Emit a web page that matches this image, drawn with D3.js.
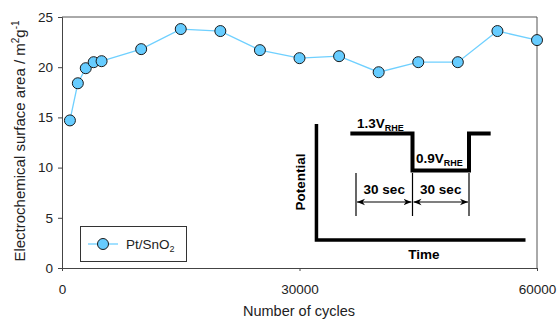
<!DOCTYPE html>
<html lang="en">
<head>
<meta charset="UTF-8" />
<title>ECSA vs cycles</title>
<script src="https://cdn.jsdelivr.net/npm/d3@7"></script>
<style>
  body { margin: 0; background: #fff; }
  svg { font-family: Arial, "Liberation Sans", sans-serif; }
  .tick text { font-size: 13.5px; fill: #222; }
</style>
</head>
<body>
<svg id="chart" width="558" height="320"></svg>
<script>
// data
var cycles = [1000, 2000, 3000, 4000, 5000, 10000, 15000, 20000, 25000, 30000,
              35000, 40000, 45000, 50000, 55000, 60000];
var ecsa = [14.7, 18.4, 19.9, 20.5, 20.6, 21.8, 23.8, 23.6, 21.7, 20.9,
            21.1, 19.5, 20.5, 20.5, 23.6, 22.7];
var xTicks = [0, 30000, 60000];
var yTicks = [0, 5, 10, 15, 20, 25];

// inset schematic: potential step (time in s, potential in V)
var waveT = [-3, 30, 30, 60, 60, 71.5];
var waveV = [1.3, 1.3, 0.9, 0.9, 1.3, 1.3];
var markT = [0, 30, 60];

var svg = d3.select("#chart");
var m = { left: 62, top: 17, right: 537, bottom: 268 };

var x = d3.scaleLinear().domain([0, 60000]).range([m.left, m.right]);
var y = d3.scaleLinear().domain([0, 25]).range([m.bottom, m.top]);

// frame top/right
svg.append("path")
  .attr("d", "M" + m.left + "," + m.top + "H" + m.right + "V" + m.bottom)
  .attr("fill", "none").attr("stroke", "#555").attr("stroke-width", 1);

var yAxis = svg.append("g")
  .attr("transform", "translate(" + m.left + ",0)")
  .call(d3.axisLeft(y).tickValues(yTicks).tickSize(4).tickPadding(5));
var xAxis = svg.append("g")
  .attr("transform", "translate(0," + m.bottom + ")")
  .call(d3.axisBottom(x).tickValues(xTicks).tickFormat(d3.format("d")).tickSize(3).tickPadding(11));
[xAxis, yAxis].forEach(function (a) {
  a.select(".domain").attr("stroke", "#444");
  a.selectAll(".tick line").attr("stroke", "#444");
});
xAxis.selectAll(".tick text").attr("dy", "0.9em");

// axis titles
svg.append("text")
  .attr("x", 299).attr("y", 316)
  .attr("text-anchor", "middle").attr("font-size", 14.5).attr("fill", "#222")
  .text("Number of cycles");

var yt = svg.append("text")
  .attr("transform", "translate(25,141) rotate(-90)")
  .attr("text-anchor", "middle").attr("font-size", 15).attr("fill", "#222");
yt.append("tspan").text("Electrochemical surface area / m");
yt.append("tspan").attr("font-size", 10).attr("dy", -6).text("2");
yt.append("tspan").attr("dy", 6).text("g");
yt.append("tspan").attr("font-size", 10).attr("dy", -6).text("-1");

// series
var pts = cycles.map(function (c, i) { return [c, ecsa[i]]; });
svg.append("path")
  .datum(pts)
  .attr("d", d3.line().x(function (d) { return x(d[0]); }).y(function (d) { return y(d[1]); }))
  .attr("fill", "none").attr("stroke", "#6fd0ff").attr("stroke-width", 1.3);
svg.selectAll("circle.pt")
  .data(pts).enter().append("circle")
  .attr("class", "pt")
  .attr("cx", function (d) { return x(d[0]); })
  .attr("cy", function (d) { return y(d[1]); })
  .attr("r", 5.5)
  .attr("fill", "#66ccff").attr("stroke", "#1a1a1a").attr("stroke-width", 1);

// legend
var lg = svg.append("g");
lg.append("rect").attr("x", 80.5).attr("y", 226.5).attr("width", 106).attr("height", 35)
  .attr("fill", "#fff").attr("stroke", "#333").attr("stroke-width", 1);
lg.append("line").attr("x1", 88).attr("x2", 118).attr("y1", 244).attr("y2", 244)
  .attr("stroke", "#6fd0ff").attr("stroke-width", 1.3);
lg.append("circle").attr("cx", 103).attr("cy", 244).attr("r", 5.5)
  .attr("fill", "#66ccff").attr("stroke", "#1a1a1a");
var lt = lg.append("text").attr("x", 126).attr("y", 249).attr("font-size", 13.5).attr("fill", "#222");
lt.append("tspan").text("Pt/SnO");
lt.append("tspan").attr("font-size", 9).attr("dy", 3).text("2");

// inset schematic
var ix = d3.scaleLinear().domain([0, 60]).range([356, 469]);
var iy = d3.scaleLinear().domain([0.9, 1.3]).range([170.5, 133.5]);
var ins = svg.append("g");
ins.append("path")
  .attr("d", "M" + ix(-21) + "," + 124 + "V" + 240 + "H" + ix(90))
  .attr("fill", "none").attr("stroke", "#000").attr("stroke-width", 3.5);
ins.append("path")
  .datum(waveT.map(function (t, i) { return [t, waveV[i]]; }))
  .attr("d", d3.line().x(function (d) { return ix(d[0]); }).y(function (d) { return iy(d[1]); }))
  .attr("fill", "none").attr("stroke", "#000").attr("stroke-width", 4)
  .attr("stroke-linejoin", "miter");

ins.selectAll("line.dim").data(markT).enter().append("line")
  .attr("x1", function (d) { return ix(d); }).attr("x2", function (d) { return ix(d); })
  .attr("y1", 173).attr("y2", 216)
  .attr("stroke", "#000").attr("stroke-width", 1.2);

var defs = svg.append("defs");
defs.append("marker").attr("id", "arr").attr("viewBox", "0 0 10 10")
  .attr("refX", 10).attr("refY", 5).attr("markerWidth", 8).attr("markerHeight", 8)
  .attr("markerUnits", "userSpaceOnUse").attr("orient", "auto-start-reverse")
  .append("path").attr("d", "M0,1 L10,5 L0,9 L3,5 Z").attr("fill", "#000");
for (var k = 0; k < markT.length - 1; k++) {
  ins.append("line")
    .attr("x1", ix(markT[k]) + 1).attr("x2", ix(markT[k + 1]) - 1)
    .attr("y1", 202).attr("y2", 202)
    .attr("stroke", "#000").attr("stroke-width", 1.2)
    .attr("marker-start", "url(#arr)").attr("marker-end", "url(#arr)");
  ins.append("text")
    .attr("x", (ix(markT[k]) + ix(markT[k + 1])) / 2).attr("y", 194)
    .attr("text-anchor", "middle").attr("font-size", 13.5).attr("font-weight", "bold")
    .text("30 sec");
}

function vLabel(px, py, main) {
  var t = ins.append("text").attr("x", px).attr("y", py)
    .attr("font-size", 13.5).attr("font-weight", "bold");
  t.append("tspan").text(main + "V");
  t.append("tspan").attr("font-size", 9).attr("dy", 3).text("RHE");
}
vLabel(357, 128, "1.3");
vLabel(416, 163, "0.9");

ins.append("text").attr("transform", "translate(305,182) rotate(-90)")
  .attr("text-anchor", "middle").attr("font-size", 13.5).attr("font-weight", "bold")
  .text("Potential");
ins.append("text").attr("x", 424).attr("y", 259)
  .attr("text-anchor", "middle").attr("font-size", 13.5).attr("font-weight", "bold")
  .text("Time");
</script>
</body>
</html>
